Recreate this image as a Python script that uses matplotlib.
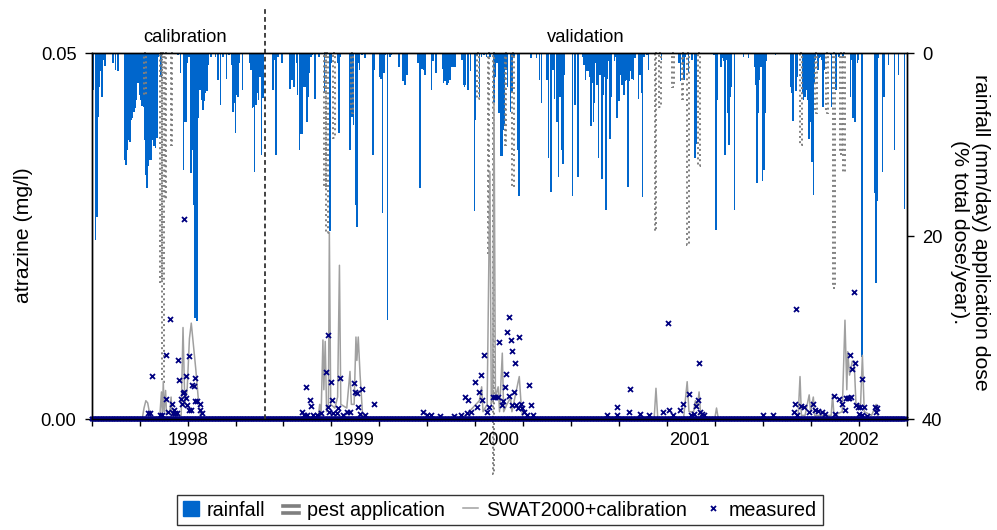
import numpy as np
import matplotlib.pyplot as plt
from matplotlib.lines import Line2D
from matplotlib.patches import Patch
from matplotlib.legend_handler import HandlerBase

plt.rcParams['font.family'] = ['Liberation Sans', 'DejaVu Sans']

# x axis is in days counted from 6 June 1997
x_end = 1776.5
tick_step = 104.5
split_day = 378                     # end of calibration period
year_pos = [209, 572, 886, 1304, 1672]
year_labels = ['1998', '1999', '2000', '2001', '2002']

# daily rainfall (day, mm)
rain_9798 = [(4, 4.0), (8, 20.4), (11, 17.9), (14, 7.0), (17, 3.7), (20, 2.0), (23, 4.8), (25, 0.8),
             (29, 1.4), (46, 1.1), (52, 1.9), (57, 2.0), (71, 11.7), (75, 12.2), (78, 10.6), (81, 9.5),
             (84, 9.7), (86, 7.3), (89, 7.1), (92, 6.4), (95, 6.0), (98, 5.1), (101, 3.3), (104, 4.6),
             (107, 5.1), (110, 5.8), (113, 5.9), (116, 9.5), (118, 13.3), (121, 14.8), (124, 12.4),
             (127, 11.7), (130, 11.7), (133, 9.5), (136, 10.2), (139, 10.4), (142, 9.3), (146, 0.4),
             (151, 2.6), (188, 0.2), (194, 2.2), (200, 12.8), (203, 7.5), (206, 7.5), (209, 1.1),
             (212, 0.4), (216, 13.1), (219, 10.6), (222, 16.6), (225, 29.0), (228, 7.3), (230, 29.3),
             (233, 7.1), (236, 4.0), (239, 5.1), (242, 6.2), (245, 5.3), (248, 4.4), (251, 4.2),
             (254, 1.3), (260, 0.4), (270, 0.4), (275, 3.0), (281, 5.7), (286, 0.4), (294, 2.8),
             (299, 0.2), (305, 1.3), (308, 6.4), (310, 5.5), (313, 8.7), (316, 4.6), (319, 4.8),
             (322, 1.1), (329, 4.0), (344, 1.1), (347, 1.9), (350, 6.0), (353, 5.9), (355, 13.0),
             (358, 5.7), (361, 4.4), (364, 5.1), (367, 2.6), (370, 11.1), (373, 4.9)]
rain_9899 = [(395, 4.0), (398, 0.8), (402, 11.2), (406, 0.4), (415, 1.1), (432, 3.9), (437, 3.0),
             (441, 3.7), (448, 1.1), (449, 4.6), (453, 10.6), (455, 8.8), (458, 8.8), (461, 3.7),
             (464, 3.7), (467, 3.7), (469, 7.5), (472, 4.8), (475, 2.2), (478, 0.4), (481, 0.2),
             (487, 5.0), (496, 0.4), (507, 4.4), (519, 19.5), (523, 1.1), (536, 1.1), (539, 8.7),
             (542, 0.4), (563, 10.6), (567, 7.0), (571, 7.9), (575, 16.6), (578, 19.0), (581, 1.1),
             (584, 1.9), (589, 0.2), (596, 0.6), (613, 11.2), (616, 1.9), (628, 2.6), (631, 2.8),
             (634, 17.5), (637, 2.2), (640, 0.2), (645, 29.2), (650, 0.4), (653, 0.2), (670, 1.5),
             (677, 3.1), (680, 3.1), (683, 3.5), (687, 2.4), (711, 1.1), (714, 0.8), (716, 14.7),
             (720, 1.7), (723, 1.9), (727, 2.4), (741, 4.0), (744, 0.9), (750, 2.2)]
rain_9900 = [(765, 1.7), (767, 3.3), (770, 3.1), (774, 3.5), (778, 3.3), (781, 2.9), (785, 1.5),
             (789, 1.5), (792, 1.5), (807, 0.8), (810, 3.5), (813, 3.7), (815, 3.5), (820, 4.0),
             (826, 2.0), (834, 17.3), (836, 7.3), (840, 0.2), (845, 4.8), (850, 0.4), (855, 0.2),
             (861, 0.4), (868, 0.4), (877, 5.5), (880, 2.6), (884, 1.1), (888, 6.6), (891, 5.1),
             (895, 11.3), (898, 8.4), (892, 11.3), (897, 8.4), (899, 8.0), (903, 1.9), (906, 3.7),
             (913, 6.4), (916, 4.4), (921, 0.4), (928, 10.6), (931, 15.6), (957, 0.6), (970, 0.6),
             (976, 3.0), (980, 5.5), (992, 3.0), (996, 11.5), (1001, 15.2), (1006, 1.9), (1009, 5.0),
             (1014, 7.5), (1018, 13.5), (1021, 4.8), (1024, 10.6), (1027, 12.1), (1030, 2.4),
             (1048, 15.6), (1054, 5.7), (1060, 13.6), (1070, 0.4), (1073, 1.3), (1076, 3.0)]
rain_0001 = [(1079, 2.0), (1082, 2.0), (1085, 2.6), (1088, 8.0), (1091, 3.3), (1094, 7.5), (1096, 5.5),
             (1099, 1.1), (1102, 3.5), (1105, 11.5), (1108, 2.4), (1112, 13.8), (1115, 4.6),
             (1118, 2.6), (1121, 17.2), (1124, 2.8), (1127, 0.9), (1130, 9.4), (1133, 4.8), (1140, 0.9),
             (1143, 0.4), (1145, 7.1), (1149, 5.3), (1153, 2.4), (1156, 3.5), (1160, 4.6), (1163, 3.1),
             (1166, 3.0), (1169, 14.6), (1172, 3.1), (1175, 2.0), (1178, 2.8), (1181, 3.0), (1184, 0.6),
             (1192, 5.0), (1195, 2.4), (1198, 4.4), (1201, 15.7), (1204, 0.4), (1210, 0.2), (1214, 1.9),
             (1242, 0.8), (1280, 1.1), (1283, 3.1), (1288, 1.3), (1291, 3.0), (1294, 0.4), (1301, 2.2),
             (1309, 0.8), (1315, 11.5), (1317, 9.9), (1357, 0.2), (1361, 19.3), (1364, 5.1),
             (1372, 1.5), (1375, 0.6), (1378, 0.9), (1381, 11.1), (1384, 0.8), (1386, 6.6),
             (1389, 10.0), (1392, 4.8), (1395, 3.7), (1401, 17.2), (1421, 0.4), (1432, 0.6)]
rain_0102 = [(1445, 1.5), (1448, 3.5), (1450, 14.2), (1453, 6.6), (1456, 3.0), (1459, 1.5), (1462, 14.0),
             (1465, 12.8), (1468, 6.6), (1471, 0.9), (1491, 0.2), (1523, 3.7), (1526, 4.4), (1529, 7.4),
             (1535, 4.2), (1538, 2.6), (1549, 4.4), (1552, 5.1), (1555, 4.8), (1558, 4.0), (1561, 5.1),
             (1564, 9.4), (1567, 7.5), (1570, 11.9), (1573, 15.5), (1575, 3.3), (1578, 0.8), (1583, 1.9),
             (1586, 0.6), (1589, 0.4), (1591, 0.8), (1594, 5.9), (1597, 1.9), (1610, 0.2), (1613, 5.9),
             (1621, 1.1), (1623, 4.0), (1629, 0.4), (1638, 0.6), (1654, 4.8), (1657, 0.8), (1660, 7.1),
             (1664, 7.5), (1669, 1.1), (1671, 0.8), (1678, 4.4), (1679, 33.2), (1706, 15.3), (1710, 25.1),
             (1712, 16.2), (1715, 0.6), (1724, 13.0), (1727, 4.8), (1737, 1.3), (1750, 10.6),
             (1759, 2.4), (1772, 17.0)]

# pesticide application (day, % of total dose per year)
pest_day = [116, 151, 155, 161, 174, 509, 513, 529, 567, 842, 865, 876, 902, 919,
            1229, 1239, 1268, 1288, 1299, 1323, 1546, 1578, 1602, 1618, 1634, 1640]
pest_dose = [4.6, 25.0, 36.0, 16.0, 10.0, 14.6, 19.7, 9.3, 6.6, 5.0, 21.9, 46.0, 10.0, 14.6,
             19.5, 5.9, 3.7, 5.0, 21.0, 12.4, 10.0, 6.6, 6.6, 25.7, 11.0, 13.0]

# simulated atrazine, SWAT2000 + calibration (day, mg/l)
swat = [(0, 0), (110, 0), (114, 0.0015), (118, 0.0025), (122, 0.0022), (127, 0.0005), (131, 0),
        (148, 0), (152, 0.0037), (154, 0.0005), (156, 0.0051), (158, 0.001), (161, 0.0039),
        (163, 0.0008), (170, 0.0008), (173, 0.003), (175, 0.0005), (195, 0.0005), (199, 0.0125),
        (203, 0.002), (208, 0.004), (213, 0.011), (217, 0.0131), (222, 0.0099), (227, 0.0067),
        (232, 0.003), (237, 0.0005), (240, 0),
        (480, 0), (494, 0.0005), (497, 0.002), (500, 0.0005), (504, 0.0108), (506, 0.004),
        (509, 0.0106), (512, 0.001), (516, 0.002), (518, 0.0255), (521, 0.002), (530, 0.0015),
        (536, 0.003), (540, 0.021), (543, 0.002), (556, 0.0015), (563, 0.0065), (566, 0.002),
        (572, 0.002), (576, 0.0112), (578, 0.008), (581, 0.0112), (585, 0.006), (590, 0.001), (595, 0),
        (800, 0), (815, 0.0005), (830, 0.0015), (845, 0.0025), (850, 0.0044), (853, 0.001),
        (862, 0.002), (868, 0.0338), (871, 0.002), (874, 0.003), (877, 0.0432), (880, 0.003),
        (886, 0.0044), (889, 0.001), (895, 0.009), (898, 0.001), (905, 0.002), (913, 0.0029),
        (916, 0.001), (932, 0.0058), (936, 0.002), (940, 0),
        (1226, 0), (1230, 0.0042), (1234, 0), (1290, 0), (1298, 0.0051), (1302, 0.001),
        (1312, 0.001), (1316, 0.0025), (1320, 0.0015), (1324, 0.0037), (1328, 0),
        (1358, 0), (1362, 0.0015), (1366, 0),
        (1530, 0), (1540, 0.0005), (1544, 0.0058), (1547, 0.0005), (1555, 0.0005), (1564, 0.0033),
        (1567, 0.001), (1573, 0.003), (1576, 0.0005), (1612, 0.0005), (1615, 0.0033), (1618, 0.0005),
        (1636, 0.001), (1642, 0.0135), (1646, 0.004), (1648, 0.0092), (1652, 0.006), (1658, 0.0079),
        (1662, 0.0079), (1666, 0.002), (1676, 0.002), (1680, 0.0087), (1684, 0.001), (1700, 0.0005),
        (1710, 0.002), (1714, 0), (1776, 0)]

# measured atrazine above zero (day, mg/l); all other sampled days read 0
measured = [(122, .0008), (126, .0008), (131, .0059), (149, .0005), (153, .0005), (161, .0087),
            (163, .0027), (167, .0010), (170, .0137), (174, .0020), (178, .0008), (180, .0012),
            (182, .0008), (185, .0008), (189, .0080), (191, .0053), (194, .0028), (196, .0020),
            (198, .0036), (201, .0037), (202, .0273), (205, .0059), (205, .0029), (207, .0019),
            (211, .0012), (212, .0086), (216, .0012), (219, .0047), (222, .0045), (225, .0024),
            (226, .0056), (230, .0024), (235, .0020), (236, .0012), (240, .0008),
            (458, .0010), (462, .0005), (467, .0044), (470, .0005), (475, .0026), (477, .0018),
            (482, .0005), (490, .0005), (500, .0008), (511, .0064), (514, .0115), (516, .0017),
            (518, .0009), (521, .0050), (523, .0026), (527, .0008), (534, .0008), (536, .0015),
            (542, .0056), (548, .0006), (556, .0010), (563, .0010), (572, .0049), (575, .0037),
            (578, .0036), (581, .0017), (585, .0007), (589, .0041), (596, .0005), (616, .0021),
            (723, .0010), (730, .0005), (740, .0005), (760, .0004), (790, .0004), (805, .0006),
            (814, .0030), (818, .0008), (821, .0026), (826, .0009), (835, .0051), (840, .0017),
            (845, .0037), (848, .0060), (851, .0026), (856, .0088), (861, .0010), (867, .0017),
            (875, .0030), (880, .0030), (885, .0030), (888, .0105), (894, .0019), (897, .0024),
            (900, .0044), (903, .0061), (906, .0119), (909, .0139), (910, .0031), (913, .0108),
            (916, .0093), (917, .0019), (921, .0037), (922, .0077), (925, .0019), (929, .0015),
            (932, .0112), (935, .0021), (939, .0015), (943, .0009), (948, .0006), (954, .0046),
            (957, .0019), (963, .0005),
            (1123, .0005), (1145, .0005), (1146, .0017), (1172, .0009), (1174, .0041), (1195, .0007),
            (1214, .0005), (1245, .0009), (1257, .0131), (1259, .0013), (1267, .0005), (1283, .0013),
            (1290, .0021), (1301, .0034), (1306, .0006), (1312, .0007), (1318, .0018), (1321, .0026),
            (1324, .0077), (1326, .0009), (1331, .0007), (1335, .0005),
            (1464, .0005), (1485, .0005), (1530, .0009), (1534, .0021), (1536, .0150), (1537, .0006),
            (1546, .0018), (1552, .0017), (1563, .0010), (1572, .0020), (1576, .0012), (1584, .0011),
            (1592, .0009), (1599, .0007), (1617, .0031), (1621, .0007), (1630, .0028), (1635, .0020),
            (1643, .0012), (1644, .0029), (1648, .0029), (1651, .0029), (1652, .0088), (1655, .0030),
            (1657, .0069), (1662, .0173), (1664, .0077), (1667, .0019), (1670, .0017), (1672, .0007),
            (1675, .0017), (1679, .0006), (1680, .0055), (1683, .0017), (1690, .0004), (1708, .0017),
            (1710, .0010), (1712, .0015)]

blue = '#0066CC'
navy = '#000080'
swat_grey = '#A0A0A0'
pest_grey = '#7F7F7F'


class PestHandle:
    pass


class HandlerDouble(HandlerBase):
    # two short thick grey bars, as in the original legend
    def create_artists(self, legend, orig_handle, xdescent, ydescent,
                       width, height, fontsize, trans):
        arts = []
        for f in (0.2, 0.7):
            y = -ydescent + height * f
            arts.append(Line2D([-xdescent, -xdescent + width], [y, y],
                               color=pest_grey, lw=2.6, transform=trans))
        return arts


fig = plt.figure(figsize=(9.97, 5.30), dpi=100)
ax = fig.add_axes([0.092, 0.2094, 0.8174, 0.6906])
ax2 = ax.twinx()
ax.set_zorder(ax2.get_zorder() + 1)
ax.patch.set_visible(False)

# rainfall and applications hang from the top (inverted right axis)
rain = np.array(rain_9798 + rain_9899 + rain_9900 + rain_0001 + rain_0102)
ax2.bar(rain[:, 0], rain[:, 1], width=3.4, color=blue, linewidth=0)
ax2.bar(pest_day, pest_dose, width=4.0, fill=False, edgecolor=pest_grey,
        linestyle=':', linewidth=1.4, clip_on=False)
ax2.set_ylim(40, 0)
ax2.set_yticks([0, 20, 40])
ax2.tick_params(axis='y', direction='out', length=5, width=1, pad=6, labelsize=13.2)

# concentrations
swat = np.array(swat)
ax.plot(swat[:, 0], swat[:, 1], color=swat_grey, lw=1.1)

zero_days = np.arange(0, int(x_end))
ax.plot(zero_days, np.zeros(len(zero_days)), 'x', color=navy, ms=3.3, mew=1.2, clip_on=False)
meas = np.array(measured)
ax.plot(meas[:, 0], meas[:, 1], 'x', color=navy, ms=3.6, mew=1.3, clip_on=False)

ax.axvline(split_day, ymin=0, ymax=1.123, color='#333333', lw=1.3,
           linestyle=(0, (2.6, 1.8)), clip_on=False)

ax.set_xlim(0, x_end)
ax.set_ylim(0, 0.05)
ax.set_yticks([0, 0.05], ['0.00', '0.05'])
ax.tick_params(axis='y', direction='out', length=5, width=1, pad=6, labelsize=13.2)
ax.xaxis.remove_overlapping_locs = False
ax.set_xticks(np.arange(18) * tick_step)
ax.tick_params(axis='x', which='major', direction='out', length=5, width=1, labelbottom=False)
ax.set_xticks(year_pos, year_labels, minor=True)
ax.tick_params(axis='x', which='minor', length=0, pad=9, labelsize=13.2)

for a in (ax, ax2):
    for s in a.spines.values():
        s.set_color('black')
        s.set_linewidth(1.0)

tr = ax.get_xaxis_transform()
ax.text(204, 1.041, 'calibration', transform=tr, ha='center', va='center', fontsize=13.2)
ax.text(1078, 1.041, 'validation', transform=tr, ha='center', va='center', fontsize=13.2)

fig.text(0.024, 0.556, 'atrazine (mg/l)', rotation=90, ha='center', va='center', fontsize=15.3)
fig.text(0.973, 0.562, 'rainfall (mm/day) application dose\n(% total dose/year).',
         rotation=270, ha='center', va='center', multialignment='center',
         fontsize=15.3, linespacing=1.15)

handles = [Patch(color=blue), PestHandle(),
           Line2D([], [], color=swat_grey, lw=1.1),
           Line2D([], [], color=navy, marker='x', ls='None', ms=3.6, mew=1.3)]
labels = ['rainfall', 'pest application', 'SWAT2000+calibration', 'measured']
leg = fig.legend(handles, labels, loc='center', bbox_to_anchor=(0.5015, 0.0377), ncol=4,
                 frameon=True, fancybox=False, edgecolor='black', fontsize=14.2,
                 handlelength=0.8, handleheight=0.8, handletextpad=0.4, columnspacing=0.9,
                 borderpad=0.3, handler_map={PestHandle: HandlerDouble()})
leg.get_frame().set_linewidth(1.0)

fig.savefig('out.png', dpi=100)
